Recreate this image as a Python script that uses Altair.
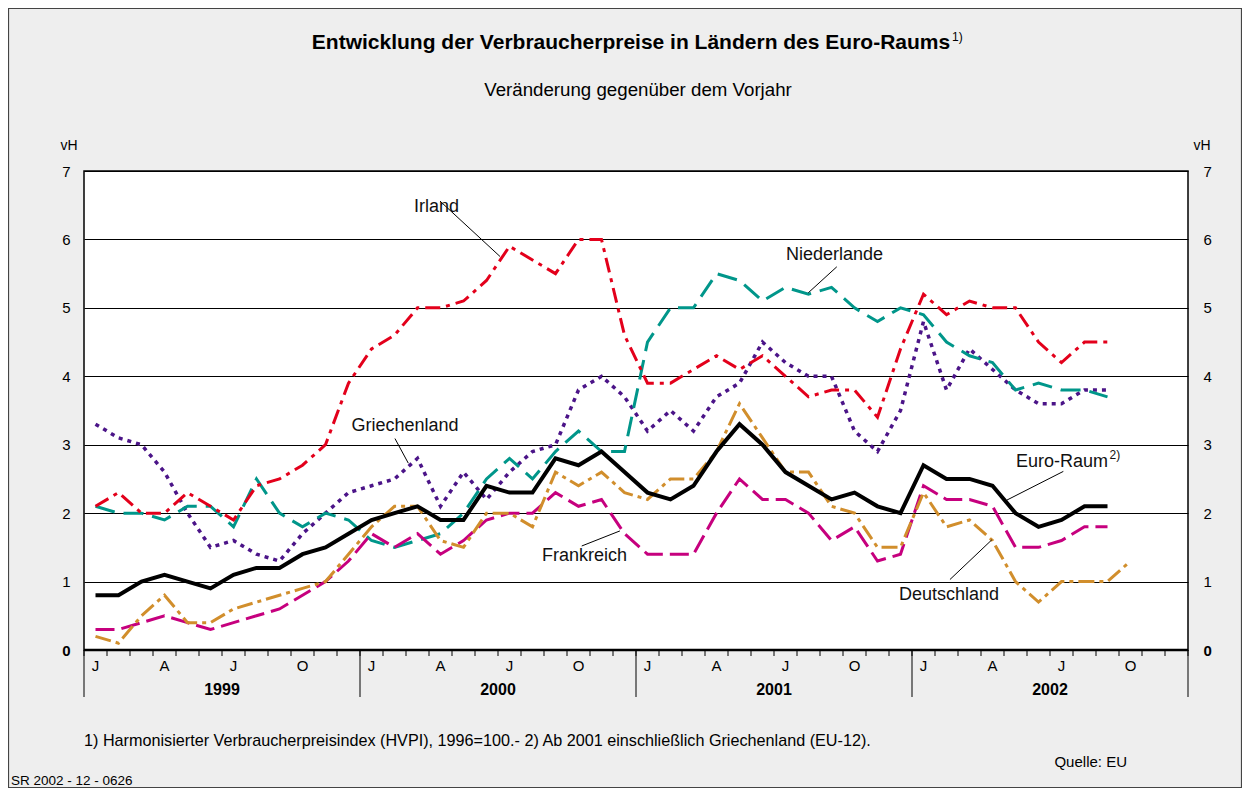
import altair as alt
import pandas as pd

# ---------------- data (monthly, Jan 1999 = index 0) ----------------
month_letters = ["J", "A", "J", "O"]
month_letter_index = [0, 3, 6, 9]
years = ["1999", "2000", "2001", "2002"]

euro_raum = [0.8, 0.8, 1.0, 1.1, 1.0, 0.9, 1.1, 1.2, 1.2, 1.4, 1.5, 1.7,
             1.9, 2.0, 2.1, 1.9, 1.9, 2.4, 2.3, 2.3, 2.8, 2.7, 2.9, 2.6,
             2.3, 2.2, 2.4, 2.9, 3.3, 3.0, 2.6, 2.4, 2.2, 2.3, 2.1, 2.0,
             2.7, 2.5, 2.5, 2.4, 2.0, 1.8, 1.9, 2.1, 2.1]
deutschland = [0.2, 0.1, 0.5, 0.8, 0.4, 0.4, 0.6, 0.7, 0.8, 0.9, 1.0, 1.4,
               1.8, 2.1, 2.1, 1.6, 1.5, 2.0, 2.0, 1.8, 2.6, 2.4, 2.6, 2.3,
               2.2, 2.5, 2.5, 2.9, 3.6, 3.1, 2.6, 2.6, 2.1, 2.0, 1.5, 1.5,
               2.3, 1.8, 1.9, 1.6, 1.0, 0.7, 1.0, 1.0, 1.0, 1.3]
frankreich = [0.3, 0.3, 0.4, 0.5, 0.4, 0.3, 0.4, 0.5, 0.6, 0.8, 1.0, 1.3,
              1.7, 1.5, 1.7, 1.4, 1.6, 1.9, 2.0, 2.0, 2.3, 2.1, 2.2, 1.7,
              1.4, 1.4, 1.4, 2.0, 2.5, 2.2, 2.2, 2.0, 1.6, 1.8, 1.3, 1.4,
              2.4, 2.2, 2.2, 2.1, 1.5, 1.5, 1.6, 1.8, 1.8]
irland = [2.1, 2.3, 2.0, 2.0, 2.3, 2.1, 1.9, 2.4, 2.5, 2.7, 3.0, 3.9,
          4.4, 4.6, 5.0, 5.0, 5.1, 5.4, 5.9, 5.7, 5.5, 6.0, 6.0, 4.6,
          3.9, 3.9, 4.1, 4.3, 4.1, 4.3, 4.0, 3.7, 3.8, 3.8, 3.4, 4.4,
          5.2, 4.9, 5.1, 5.0, 5.0, 4.5, 4.2, 4.5, 4.5]
niederlande = [2.1, 2.0, 2.0, 1.9, 2.1, 2.1, 1.8, 2.5, 2.0, 1.8, 2.0, 1.9,
               1.6, 1.5, 1.6, 1.7, 2.0, 2.5, 2.8, 2.5, 2.9, 3.2, 2.9, 2.9,
               4.5, 5.0, 5.0, 5.5, 5.4, 5.1, 5.3, 5.2, 5.3, 5.0, 4.8, 5.0,
               4.9, 4.5, 4.3, 4.2, 3.8, 3.9, 3.8, 3.8, 3.7]
griechenland = [3.3, 3.1, 3.0, 2.6, 2.0, 1.5, 1.6, 1.4, 1.3, 1.7, 2.0, 2.3,
                2.4, 2.5, 2.8, 2.1, 2.6, 2.2, 2.6, 2.9, 3.0, 3.8, 4.0, 3.7,
                3.2, 3.5, 3.2, 3.7, 3.9, 4.5, 4.2, 4.0, 4.0, 3.2, 2.9, 3.5,
                4.8, 3.8, 4.4, 4.1, 3.8, 3.6, 3.6, 3.8, 3.8]

series_names = ["Griechenland", "Niederlande", "Irland", "Frankreich", "Deutschland", "Euro-Raum"]
series_values = [griechenland, niederlande, irland, frankreich, deutschland, euro_raum]

# annotation labels (data coordinates: month index, vH)
label_text = ["Irland", "Griechenland", "Niederlande", "Frankreich", "Euro-Raum", "Deutschland"]
label_m = [15.33, 13.96, 32.63, 21.76, 42.52, 37.61]
label_v = [6.48, 3.27, 5.77, 1.37, 2.75, 0.80]
leader_m1 = [15.48, 13.52, 32.73, 21.64, 42.58, 37.65]
leader_v1 = [6.56, 3.09, 5.60, 1.52, 2.61, 1.03]
leader_m2 = [18.09, 14.10, 31.49, 23.30, 40.12, 39.47]
leader_v2 = [5.75, 2.73, 5.22, 1.74, 2.19, 1.61]
sup_m = [44.59]
sup_v = [2.85]

title = "Entwicklung der Verbraucherpreise in Ländern des Euro-Raums"
subtitle = "Veränderung gegenüber dem Vorjahr"
footnote = "1)  Harmonisierter Verbraucherpreisindex (HVPI), 1996=100.- 2) Ab 2001 einschließlich Griechenland (EU-12)."
source = "Quelle: EU"
code = "SR 2002 - 12 - 0626"

# ---------------- styles ----------------
FONT = "Liberation Sans"
W, H = 1104, 479
styles = {
    "Griechenland": ("#4B1488", [4, 5], 3.5),
    "Niederlande": ("#00968A", [20, 9], 3),
    "Irland": ("#E3001B", [15, 6, 4, 6], 3),
    "Frankreich": ("#C6007E", [19, 7], 3),
    "Deutschland": ("#D18E2C", [16, 5, 4, 5], 3),
    "Euro-Raum": ("#000000", None, 4),
}

xs = alt.Scale(domain=[0, 48], nice=False, zero=False)
ys = alt.Scale(domain=[0, 7], nice=False, zero=True)

bold_zero = {"condition": {"test": "datum.value == 0", "value": "bold"}, "value": "normal"}

left_axis = alt.Axis(orient="left", values=list(range(8)), grid=True, gridColor="#000000",
                     gridWidth=1.2, ticks=False, domain=False, labelPadding=14,
                     labelFontSize=15, labelFont=FONT, labelColor="#000000",
                     labelFontWeight=bold_zero, title=None)
right_axis = alt.Axis(orient="right", values=list(range(8)), grid=False, ticks=False,
                      domain=False, labelPadding=15, labelFontSize=15, labelFont=FONT,
                      labelColor="#000000", labelFontWeight=bold_zero, title=None)

layers = []

# baseline + left axis with gridlines
layers.append(
    alt.Chart(pd.DataFrame({"v": [0]})).mark_rule(color="#000000", strokeWidth=2.5)
    .encode(y=alt.Y("v:Q", scale=ys, axis=left_axis))
)

# month ticks
layers.append(
    alt.Chart(pd.DataFrame({"k": list(range(49))})).mark_rule(color="#000000", strokeWidth=1)
    .encode(x=alt.X("k:Q", scale=xs, axis=None), y=alt.value(H), y2=alt.value(H + 6))
)
# year separators
layers.append(
    alt.Chart(pd.DataFrame({"k": [0, 12, 24, 36, 48]})).mark_rule(color="#000000", strokeWidth=1)
    .encode(x=alt.X("k:Q", scale=xs, axis=None), y=alt.value(H), y2=alt.value(H + 47))
)
# month letters
ml_rows = []
for yi in range(len(years)):
    for letter, idx in zip(month_letters, month_letter_index):
        ml_rows.append({"m": yi * 12 + idx + 0.5, "t": letter})
layers.append(
    alt.Chart(pd.DataFrame(ml_rows)).mark_text(font=FONT, fontSize=15, color="#000000",
                                                 baseline="middle", align="center")
    .encode(x=alt.X("m:Q", scale=xs, axis=None), y=alt.value(H + 16), text="t:N")
)
# year labels
layers.append(
    alt.Chart(pd.DataFrame({"m": [6 + 12 * i for i in range(len(years))], "t": years}))
    .mark_text(font=FONT, fontSize=16, fontWeight="bold", color="#000000",
               baseline="middle", align="center")
    .encode(x=alt.X("m:Q", scale=xs, axis=None), y=alt.value(H + 40), text="t:N")
)

# series lines
for name, vals in zip(series_names, series_values):
    color, dash, width = styles[name]
    df = pd.DataFrame({"m": [i + 0.5 for i in range(len(vals))], "v": vals})
    kw = dict(color=color, strokeWidth=width, strokeJoin="miter", strokeCap="butt")
    if dash:
        kw["strokeDash"] = dash
    layers.append(
        alt.Chart(df).mark_line(**kw).encode(
            x=alt.X("m:Q", scale=xs, axis=None),
            y=alt.Y("v:Q", scale=ys, axis=None),
        )
    )

# leader lines
layers.append(
    alt.Chart(pd.DataFrame({"m1": leader_m1, "v1": leader_v1, "m2": leader_m2, "v2": leader_v2}))
    .mark_rule(color="#000000", strokeWidth=1)
    .encode(x=alt.X("m1:Q", scale=xs, axis=None), x2="m2:Q",
            y=alt.Y("v1:Q", scale=ys, axis=None), y2="v2:Q")
)
# annotation labels
layers.append(
    alt.Chart(pd.DataFrame({"m": label_m, "v": label_v, "t": label_text}))
    .mark_text(font=FONT, fontSize=18, color="#111111", baseline="middle", align="center")
    .encode(x=alt.X("m:Q", scale=xs, axis=None), y=alt.Y("v:Q", scale=ys, axis=None), text="t:N")
)
layers.append(
    alt.Chart(pd.DataFrame({"m": sup_m, "v": sup_v, "t": ["2)"]}))
    .mark_text(font=FONT, fontSize=12, color="#111111", baseline="middle", align="left")
    .encode(x=alt.X("m:Q", scale=xs, axis=None), y=alt.Y("v:Q", scale=ys, axis=None), text="t:N")
)

# texts around the plot
def free_text(t, x, y, size, align="center", weight="normal"):
    return (alt.Chart(pd.DataFrame({"t": [t]}))
            .mark_text(font=FONT, fontSize=size, fontWeight=weight, color="#000000",
                       align=align, baseline="middle")
            .encode(text="t:N", x=alt.value(x), y=alt.value(y)))

layers.append(free_text(title, 547, -128, 21, weight="bold"))
layers.append(free_text("1)", 868, -134, 12, align="left"))
layers.append(free_text(subtitle, 554, -81, 18.7))
layers.append(free_text("vH", -15, -25, 14))
layers.append(free_text("vH", 1118, -25, 14))
layers.append(free_text(footnote, 0, 570, 16.2, align="left"))
layers.append(free_text(source, 1043, 591, 15, align="right"))
layers.append(free_text(code, -73, 610, 13.5, align="left"))

# outer frame
layers.append(
    alt.Chart(pd.DataFrame({"a": [0]})).mark_rect(fill=None, stroke="#444444", strokeWidth=1.2)
    .encode(x=alt.value(-75.5), x2=alt.value(W + 53.5), y=alt.value(-162.5), y2=alt.value(H + 137.5))
)

# right axis
layers.append(
    alt.Chart(pd.DataFrame({"v": [0]})).mark_rule(opacity=0)
    .encode(y=alt.Y("v:Q", scale=ys, axis=right_axis))
)

chart = (
    alt.layer(*layers)
    .resolve_scale(y="independent")
    .properties(
        width=W, height=H,
        padding={"left": 76, "top": 163, "right": 54, "bottom": 138},
        autosize=alt.AutoSizeParams(type="none"),
        background="#eeeeee",
    )
    .configure_view(fill="white", stroke="#000000", strokeWidth=1.5)
)

chart.save("out.html", embed_options={"renderer": "svg", "actions": False})
